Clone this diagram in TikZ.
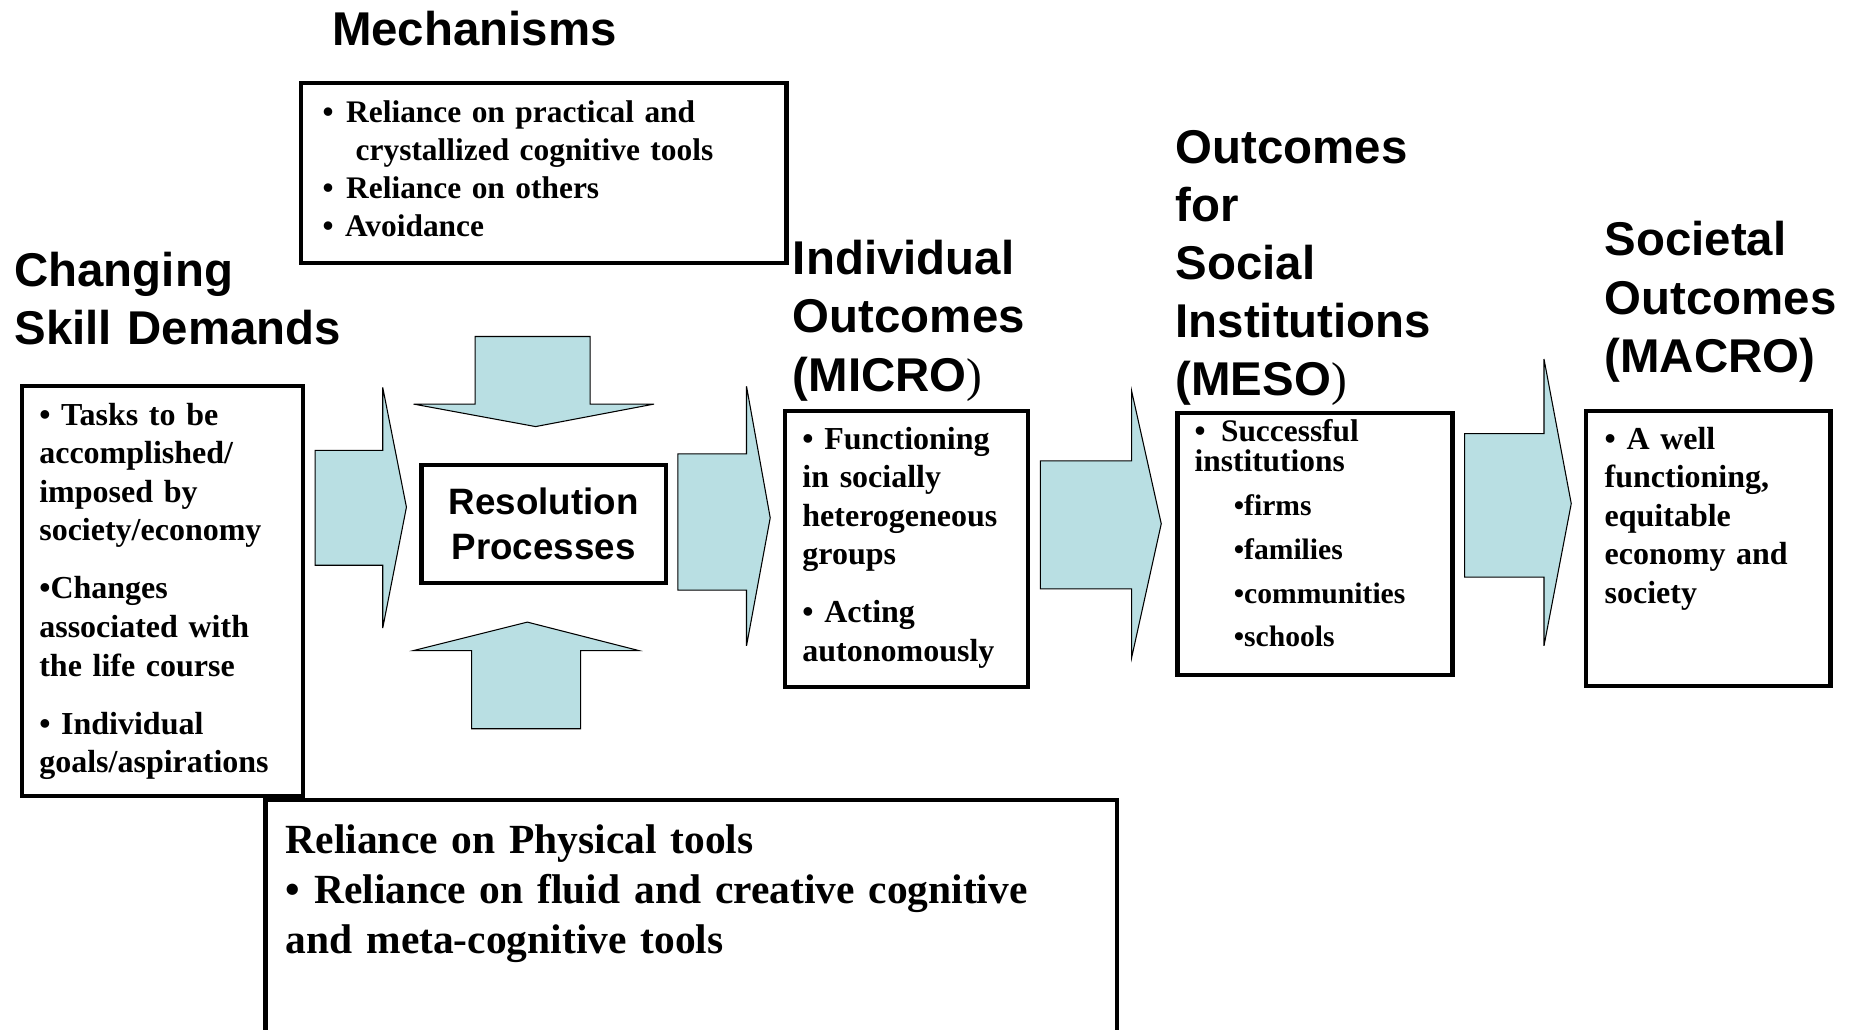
\documentclass[tikz,border=0pt]{standalone}
\usepackage{fontspec}
\setmainfont{Liberation Serif}
\newfontfamily\hv{Liberation Sans}
\newfontfamily\tmreg{Liberation Serif}
\definecolor{arrowfill}{RGB}{185,223,227}
\begin{document}
\begin{tikzpicture}[x=1pt,y=-1pt,
  boxst/.style={draw=black, line width=3.5pt, fill=white, anchor=north west, inner sep=0pt},
  blockarrow/.style={draw=black, line width=0.9pt, fill=arrowfill, line join=miter},
  titletext/.style={anchor=base west, inner sep=0pt, text width=320pt, align=left,
    font=\hv\bfseries\fontsize{40}{49}\selectfont},
  bodytext/.style={anchor=base west, inner sep=0pt, text width=240pt, align=left,
    font=\bfseries\fontsize{27}{32.5}\selectfont},
  bigtext/.style={anchor=base west, inner sep=0pt, text width=700pt, align=left,
    font=\bfseries\fontsize{35}{42.5}\selectfont}]
\useasboundingbox (0,0) rectangle (1568,869);

% ---------- boxes ----------
\node[boxst, minimum width=410pt, minimum height=152pt] (mechbox) at (252,68) {};
\node[boxst, minimum width=237pt, minimum height=346pt] (leftbox) at (17,324) {};
\node[boxst, minimum width=206pt, minimum height=99pt] (resbox) at (354,391) {};
\node[boxst, minimum width=205pt, minimum height=233pt] (microbox) at (661,345) {};
\node[boxst, minimum width=232pt, minimum height=221pt] (mesobox) at (992,347) {};
\node[boxst, minimum width=206pt, minimum height=232pt] (macrobox) at (1337,345) {};
\draw[line width=3.5pt, line join=miter] (224,875) -- (224,675) -- (943,675) -- (943,875);

% ---------- block arrows ----------
\draw[blockarrow] (266,380) -- (323,380) -- (323,327) -- (343,428) -- (323,530) -- (323,477) -- (266,477) -- cycle;
\draw[blockarrow] (572,383) -- (630,383) -- (630,326) -- (650,437) -- (630,545) -- (630,498) -- (572,498) -- cycle;
\draw[blockarrow] (878,389) -- (955,389) -- (955,330) -- (980,442) -- (955,555) -- (955,497) -- (878,497) -- cycle;
\draw[blockarrow] (1236,366) -- (1303,366) -- (1303,303) -- (1326,425) -- (1303,545) -- (1303,487) -- (1236,487) -- cycle;
\draw[blockarrow] (401,284) -- (498,284) -- (498,341) -- (552,341) -- (452,360) -- (349,341) -- (401,341) -- cycle;
\draw[blockarrow] (398,615) -- (490,615) -- (490,549) -- (539,549) -- (445,525) -- (349,549) -- (398,549) -- cycle;

% ---------- titles ----------
\node[titletext] (mechtitle) at (280,38) {Mechanisms};
\node[titletext] (changetitle) at (12,242) {Changing\\Skill Demands};
\node[titletext] (microtitle) at (669,232) {Individual\\Outcomes\\(MICRO{\tmreg\mdseries)}};
\node[titletext] (mesotitle) at (992,138) {Outcomes\\for\\Social\\Institutions\\(MESO{\tmreg\mdseries)}};
\node[titletext] (macrotitle) at (1354,216) {Societal\\Outcomes\\(MACRO)};

\node[anchor=center, inner sep=0pt, align=center, font=\hv\bfseries\fontsize{31}{38}\selectfont] (restext) at (resbox.center) {Resolution\\Processes};

% ---------- box texts ----------
\node[bodytext, text width=390pt, font=\bfseries\fontsize{26.5}{32.3}\selectfont] (mechtext) at (272,103) {%
  \makebox[20pt][l]{•}Reliance on practical and\\
  \hspace*{28pt}crystallized cognitive tools\\
  \makebox[20pt][l]{•}Reliance on others\\
  \makebox[19pt][l]{•}Avoidance};

\node[bodytext] (lefttext) at (33,359) {%
  • Tasks to be\\ accomplished/\\ imposed by\\ society/economy\\[16.5pt]
  •Changes\\ associated with\\ the life course\\[16.5pt]
  • Individual\\ goals/aspirations};

\node[bodytext] (microtext) at (677,379) {%
  • Functioning\\ in socially\\ heterogeneous\\ groups\\[16.5pt]
  • Acting\\ autonomously};

\node[bodytext, font=\bfseries\fontsize{26.5}{37}\selectfont] (mesotext) at (1008,373) {%
  •\hspace{13pt}Successful\\[-12pt]
  institutions\\
  {\fontsize{25}{37}\selectfont\hspace*{33pt}•firms}\\
  {\fontsize{25}{37}\selectfont\hspace*{33pt}•families}\\
  {\fontsize{25}{37}\selectfont\hspace*{33pt}•communities}\\
  {\fontsize{25}{37}\selectfont\hspace*{33pt}•schools}};

\node[bodytext] (macrotext) at (1354,379) {%
  • A well\\ functioning,\\ equitable\\ economy and\\ society};

\node[bigtext] (bottomtext) at (241,720) {%
  Reliance on Physical tools\\
  • Reliance on fluid and creative cognitive\\
  and meta-cognitive tools};
\end{tikzpicture}
\end{document}
